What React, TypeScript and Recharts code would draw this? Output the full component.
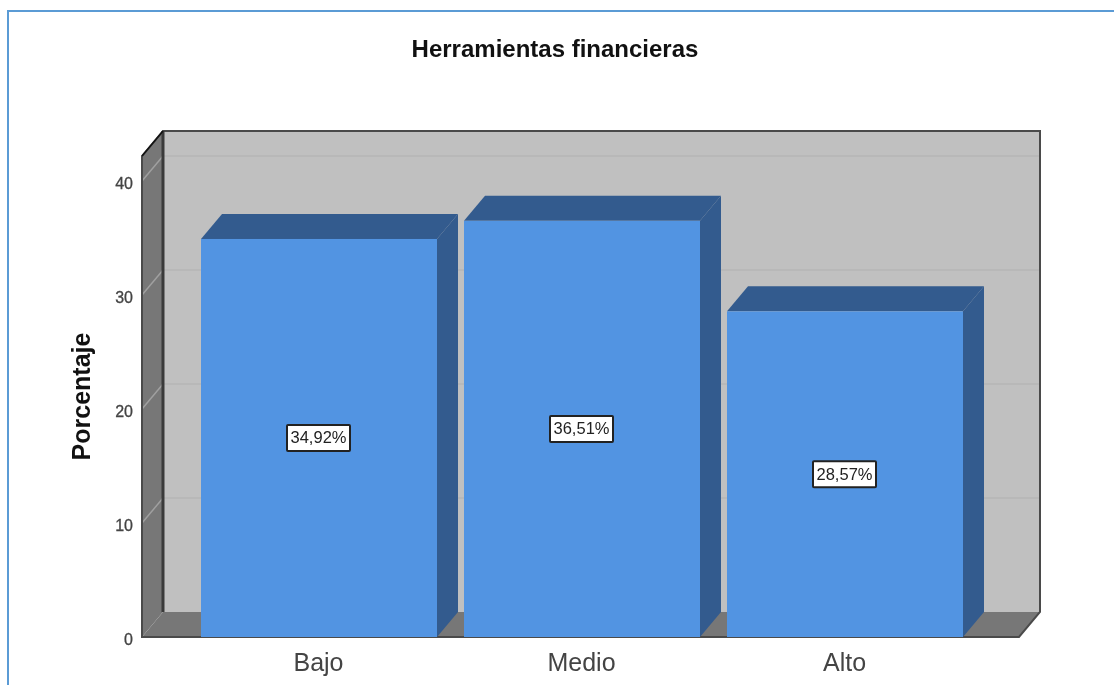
import { Bar, BarChart, LabelList, ReferenceArea, XAxis, YAxis } from "recharts"

const categories = ["Bajo", "Medio", "Alto"]
const percentages = [34.92, 36.51, 28.57]
const yTicks = [0, 10, 20, 30, 40]
const yMax = 42.2

const data = categories.map((name, i) => ({ name, value: percentages[i] }))

// fake 3D offset of the SPSS style box
const DX = 21
const DY = 25
const PAD_LEFT = 45
const PAD_RIGHT = 43

const FONT = '"Liberation Sans", Arial, sans-serif'

function Walls(props: any) {
  const { y, height } = props
  // the area only spans the padded x range, so widen it back to the full plot
  const x = props.x - PAD_LEFT
  const r = props.x + props.width + PAD_RIGHT
  const b = y + height
  return (
    <g>
      <rect x={x + DX} y={y - DY} width={r - x} height={height} fill="#c0c0c0" />
      <polygon
        points={`${x},${y} ${x + DX},${y - DY} ${x + DX},${b - DY} ${x},${b}`}
        fill="#777777"
      />
      <polygon
        points={`${x},${b} ${x + DX},${b - DY} ${r + DX},${b - DY} ${r},${b}`}
        fill="#777777"
      />
      {/* grid goes here, reference lines would sit on top of the bars */}
      {yTicks
        .filter((t) => t > 0)
        .map((t) => {
          const ty = b - (t / yMax) * height
          return (
            <g key={t}>
              <line x1={x} y1={ty} x2={x + DX} y2={ty - DY} stroke="#a0a0a0" strokeWidth={1.5} />
              <line x1={x + DX} y1={ty - DY} x2={r + DX} y2={ty - DY} stroke="#b6b6b6" strokeWidth={1.5} />
            </g>
          )
        })}
      <path
        d={`M${x} ${b} L${x} ${y} L${x + DX} ${y - DY} L${r + DX} ${y - DY} L${r + DX} ${b - DY} L${r} ${b} Z`}
        fill="none"
        stroke="#4a4a4a"
        strokeWidth={2}
      />
      <path d={`M${x + DX} ${y - DY} L${x + DX} ${b - DY} `} stroke="#3a3a3a" strokeWidth={3} />
      <path d={`M${x} ${y} L${x + DX} ${y - DY}`} stroke="#111" strokeWidth={1.5} />
    </g>
  )
}

function Box3D(props: any) {
  const { x, y, width, height } = props
  const r = x + width
  const b = y + height
  return (
    <g>
      <polygon
        points={`${x},${y} ${x + DX},${y - DY} ${r + DX},${y - DY} ${r},${y}`}
        fill="#335b8e"
      />
      <polygon
        points={`${r},${y} ${r + DX},${y - DY} ${r + DX},${b - DY} ${r},${b}`}
        fill="#335b8e"
      />
      <rect x={x} y={y} width={width} height={height} fill="#5294e2" />
    </g>
  )
}

function ValueBox(props: any) {
  const { x, y, width, height, value } = props
  const cx = x + width / 2
  const cy = y + height / 2
  return (
    <g>
      <rect x={cx - 32} y={cy - 13} width={63} height={26} fill="#fff" stroke="#222" strokeWidth={2} rx={1} />
      <text x={cx - 0.5} y={cy + 5.5} textAnchor="middle" fontSize={16.5} fontFamily={FONT} fill="#222">
        {value.toFixed(2).replace(".", ",") + "%"}
      </text>
    </g>
  )
}

export default function App() {
  return (
    <div
      style={{
        position: "absolute",
        left: 0,
        top: 0,
        width: 1114,
        height: 685,
        background: "#fff",
        overflow: "hidden",
        filter: "blur(0.5px)",
      }}
    >
      <div
        style={{
          position: "absolute",
          left: 7,
          top: 10,
          width: 1110,
          height: 690,
          borderTop: "2px solid #5b9bd5",
          borderLeft: "2px solid #5b9bd5",
          boxSizing: "border-box",
        }}
      />
      <div
        style={{
          position: "absolute",
          left: 0,
          width: 1110,
          top: 35,
          textAlign: "center",
          fontFamily: FONT,
          fontWeight: 700,
          fontSize: 24,
          color: "#111",
        }}
      >
        Herramientas financieras
      </div>
      <BarChart
        width={1114}
        height={685}
        data={data}
        margin={{ top: 156, right: 95, bottom: 0, left: 82 }}
        style={{ position: "absolute", left: 0, top: 0 }}
      >
        <XAxis
          dataKey="name"
          axisLine={false}
          tickLine={false}
          height={48}
          padding={{ left: PAD_LEFT, right: PAD_RIGHT }}
          interval={0}
          tick={{ fontSize: 25, fontFamily: FONT, fill: "#444", dy: 8 }}
        />
        <YAxis
          width={60}
          domain={[0, yMax]}
          ticks={yTicks}
          axisLine={false}
          tickLine={false}
          tickMargin={0}
          tick={{ fontSize: 16, fontFamily: FONT, fill: "#444", stroke: "#444", strokeWidth: 0.3, dy: 2, dx: -3 }}
          label={{
            value: "Porcentaje",
            angle: -90,
            position: "center",
            dx: -31,
            fontFamily: FONT,
            fontWeight: 700,
            fontSize: 25,
            fill: "#111",
          }}
        />
        <ReferenceArea y1={0} y2={yMax} shape={Walls} ifOverflow="visible" />
        <Bar dataKey="value" barSize={236} shape={Box3D} isAnimationActive={false}>
          <LabelList dataKey="value" content={ValueBox} />
        </Bar>
      </BarChart>
    </div>
  )
}
